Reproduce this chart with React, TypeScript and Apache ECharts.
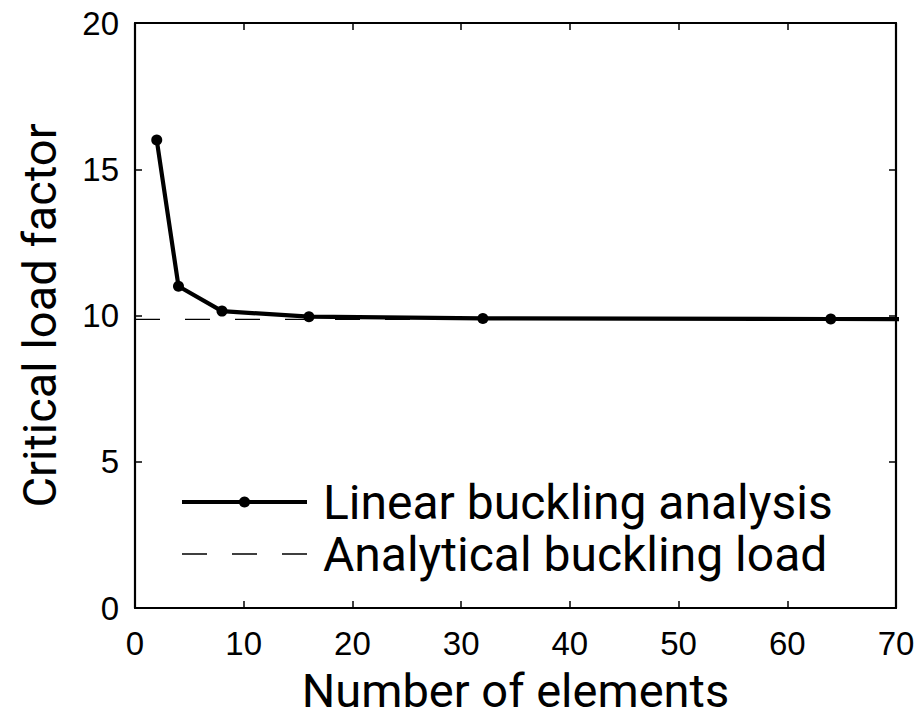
import React, { useEffect, useRef } from "react";
import * as echarts from "echarts";

const elements = [2, 4, 8, 16, 32, 64, 128];
const criticalLoad = [16.0, 11.0, 10.15, 9.96, 9.9, 9.88, 9.87];
const analyticalX = [0, 70];
const analyticalLoad = [9.87, 9.87];
const xTicks = { min: 0, max: 70, interval: 10 };
const yTicks = { min: 0, max: 20, interval: 5 };
const seriesNames = ["Linear buckling analysis", "Analytical buckling load"];
const xName = "Number of elements";
const yName = "Critical load factor";

export default function App() {
  const ref = useRef<HTMLDivElement>(null);
  useEffect(() => {
    document.body.style.margin = "0";
    if (!ref.current) return;
    const chart = echarts.init(ref.current, undefined, { renderer: "svg" });
    const tickLabelFont = () => ({ fontFamily: "Liberation Sans", fontSize: 33, color: "#000" });
    const axisLine = () => ({ show: true, onZero: false, lineStyle: { color: "#000", width: 2.2 } });
    const axisTick = () => ({ show: true, inside: true, length: 7, lineStyle: { color: "#000", width: 1.5 } });
    const nameFont = () => ({ fontFamily: "Roboto", fontSize: 47, lineHeight: 48, color: "#000" });
    chart.setOption({
      animation: false,
      backgroundColor: "#fff",
      grid: { left: 135, right: 23, top: 23, bottom: 111, containLabel: false, outerBoundsMode: "none" },
      legend: {
        orient: "vertical",
        left: 180,
        top: 476,
        padding: 0,
        itemWidth: 125,
        itemHeight: 14,
        itemGap: 0,
        textStyle: { fontFamily: "Roboto", fontSize: 48, color: "#000", lineHeight: 52, padding: [0, 0, 0, 11] },
        data: [
          { name: seriesNames[0], lineStyle: { width: 4, color: "#000" }, itemStyle: { color: "#000" } },
          { name: seriesNames[1], lineStyle: { width: 1.3, color: "#000", type: [25, 25] }, itemStyle: { opacity: 0 } },
        ],
      },
      xAxis: [
        {
          type: "value",
          min: xTicks.min,
          max: xTicks.max,
          interval: xTicks.interval,
          position: "bottom",
          axisLine: axisLine(),
          axisTick: axisTick(),
          splitLine: { show: false },
          axisLabel: { ...tickLabelFont(), margin: 19 },
          name: xName,
          nameLocation: "middle",
          nameGap: 58,
          nameTextStyle: nameFont(),
        },
        {
          type: "value",
          min: xTicks.min,
          max: xTicks.max,
          interval: xTicks.interval,
          position: "top",
          axisLine: axisLine(),
          axisTick: axisTick(),
          splitLine: { show: false },
          axisLabel: { show: false },
        },
      ],
      yAxis: [
        {
          type: "value",
          min: yTicks.min,
          max: yTicks.max,
          interval: yTicks.interval,
          position: "left",
          axisLine: axisLine(),
          axisTick: axisTick(),
          splitLine: { show: false },
          axisLabel: { ...tickLabelFont(), margin: 16 },
          name: yName,
          nameLocation: "middle",
          nameGap: 72,
          nameTextStyle: nameFont(),
        },
        {
          type: "value",
          min: yTicks.min,
          max: yTicks.max,
          interval: yTicks.interval,
          position: "right",
          axisLine: axisLine(),
          axisTick: axisTick(),
          splitLine: { show: false },
          axisLabel: { show: false },
        },
      ],
      series: [
        {
          name: seriesNames[0],
          type: "line",
          data: elements.map((x, i) => [x, criticalLoad[i]]),
          symbol: "circle",
          symbolSize: 11,
          clip: true,
          z: 3,
          lineStyle: { color: "#000", width: 4.2 },
          itemStyle: { color: "#000" },
        },
        {
          name: seriesNames[1],
          type: "line",
          data: analyticalX.map((x, i) => [x, analyticalLoad[i]]),
          showSymbol: false,
          symbol: "none",
          z: 2,
          lineStyle: { color: "#000", width: 1.3, type: [25, 25] },
          itemStyle: { color: "#000" },
        },
      ],
    });
    return () => chart.dispose();
  }, []);
  return <div ref={ref} style={{ width: 919, height: 719 }} />;
}
